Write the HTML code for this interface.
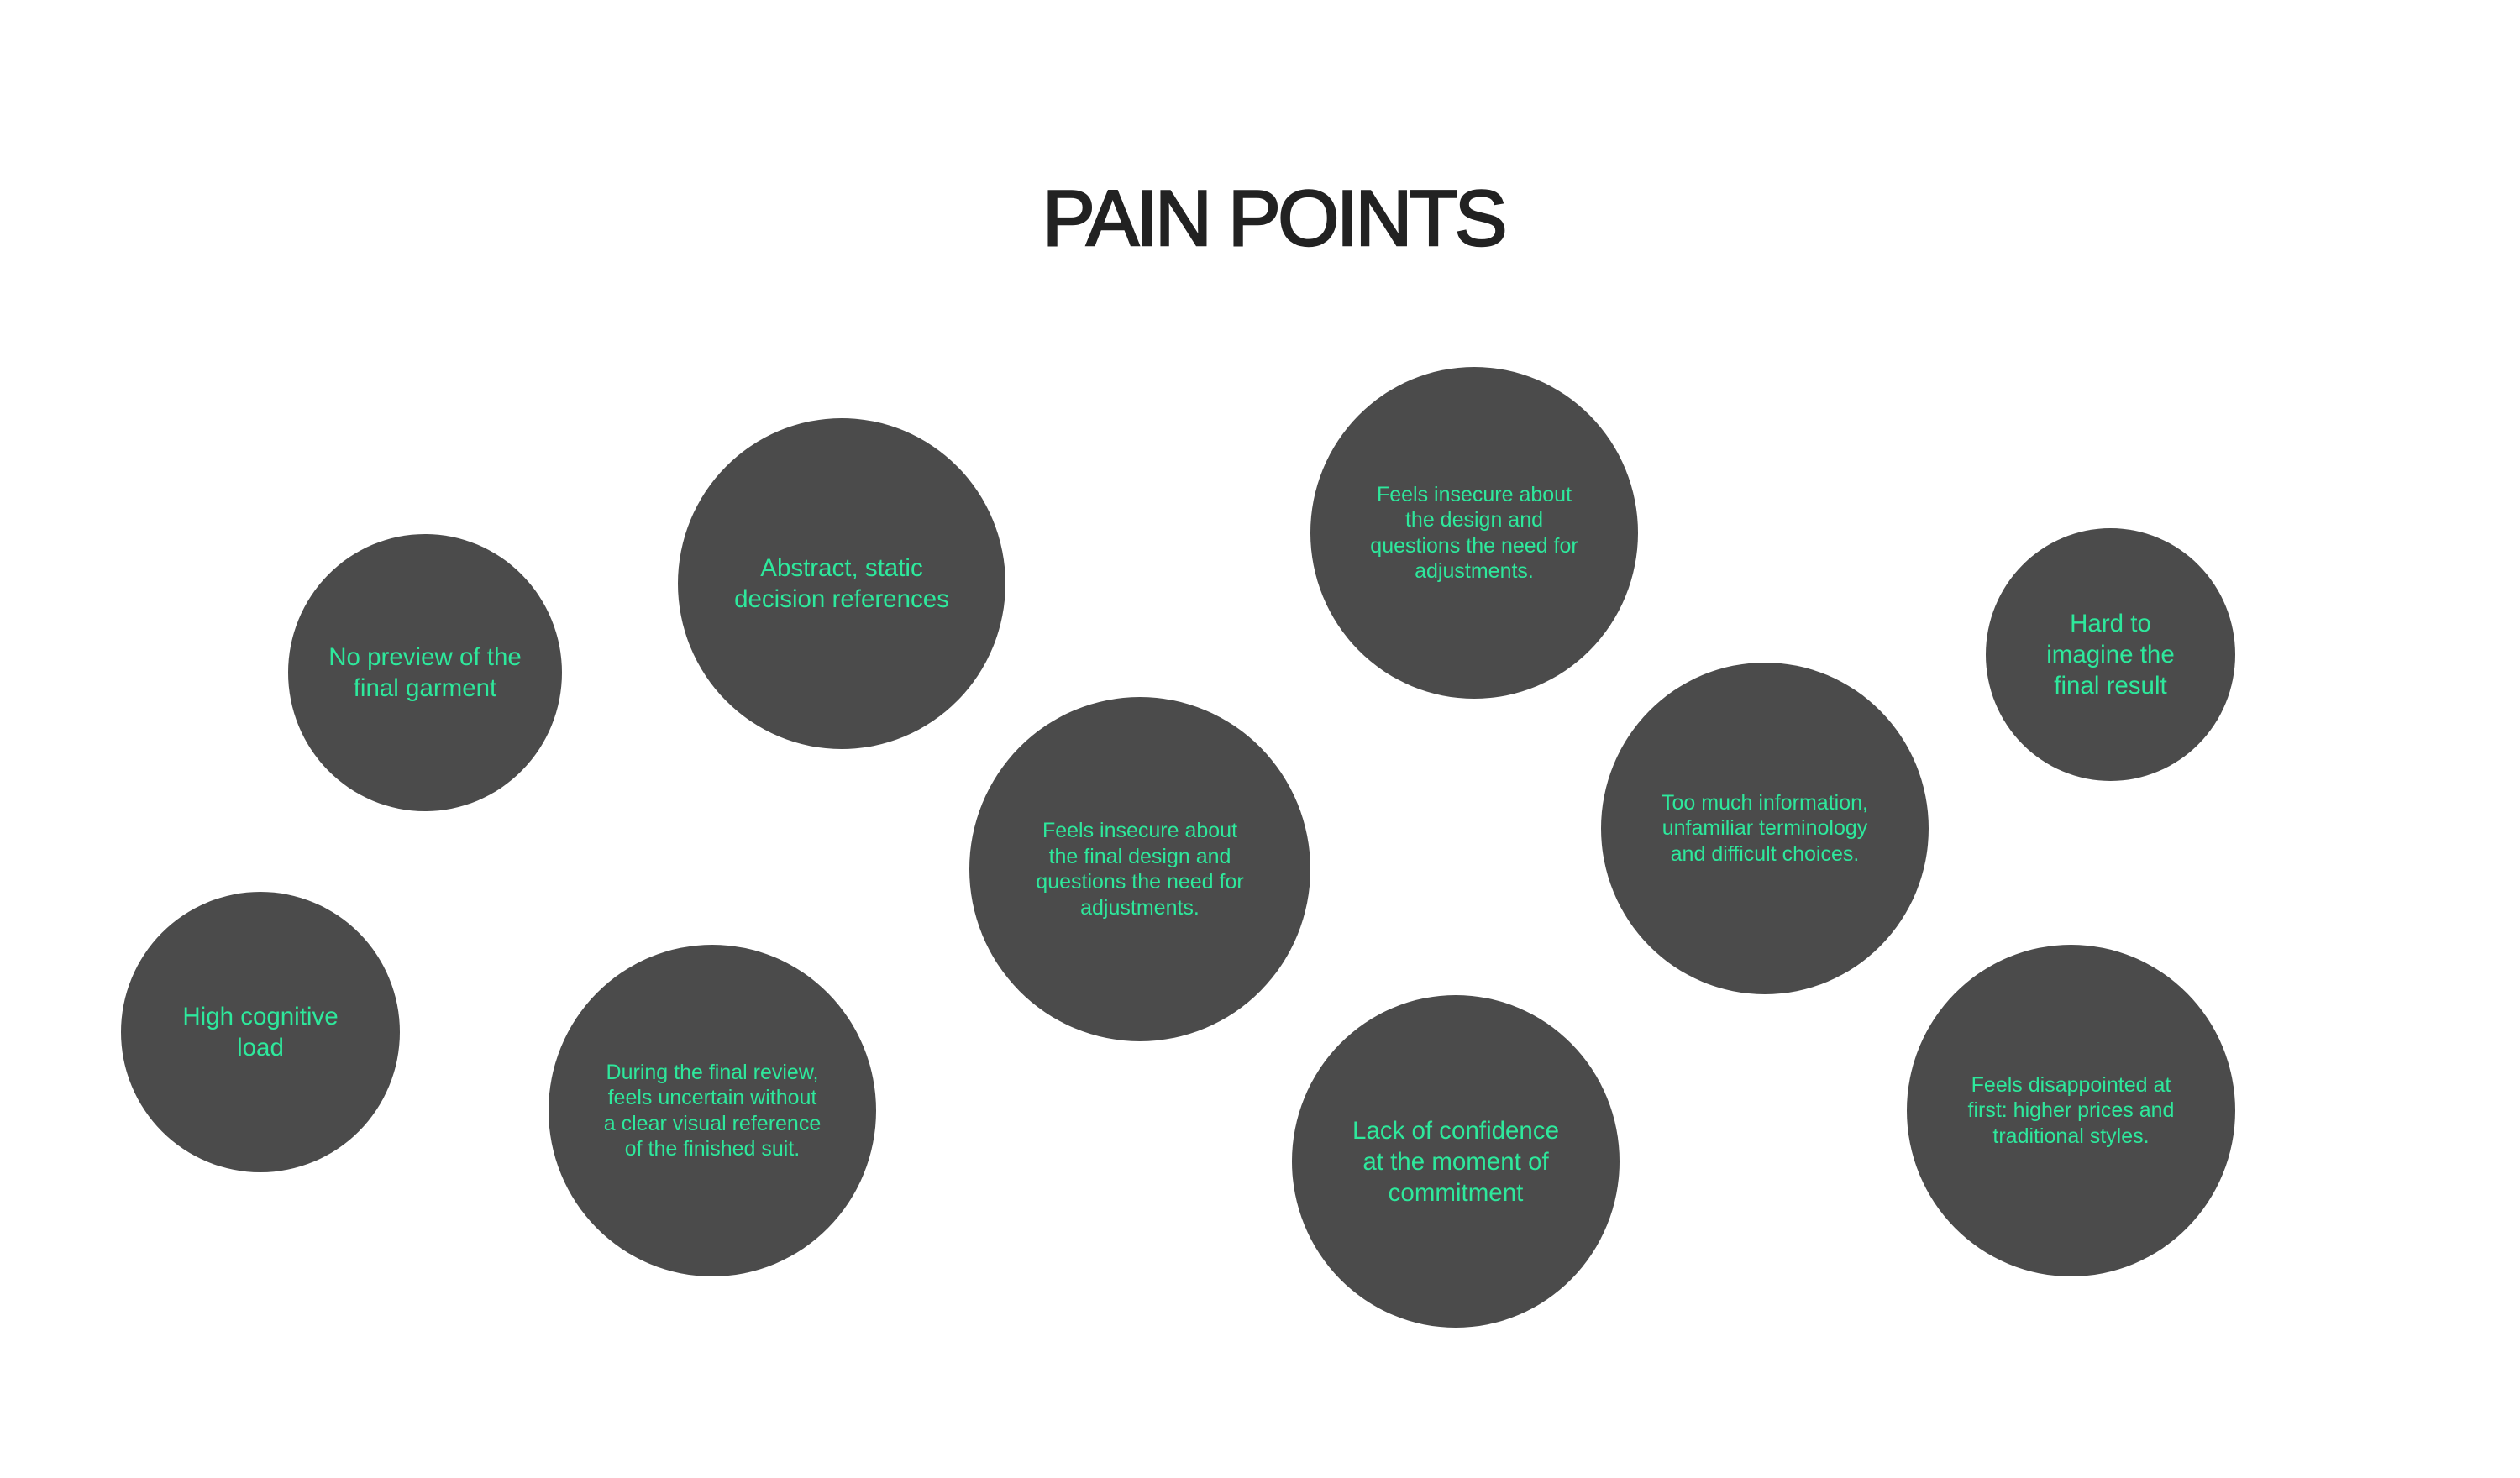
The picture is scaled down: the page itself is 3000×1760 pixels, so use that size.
<!DOCTYPE html>
<html><head><meta charset="utf-8"><style>
html,body{margin:0;padding:0;background:#fff;}
body{width:3000px;height:1760px;position:relative;overflow:hidden;font-family:"Liberation Sans",sans-serif;}
.t{position:absolute;left:16px;width:3000px;top:205px;text-align:center;font-size:94px;color:#222;letter-spacing:-3.5px;-webkit-text-stroke:2.5px #222;line-height:110px;}
.c{position:absolute;border-radius:50%;background:#4b4b4b;display:flex;align-items:center;justify-content:center;text-align:center;color:#2ee89c;white-space:nowrap;}
.L{font-size:29.5px;line-height:37px;}
.S{font-size:25px;line-height:30.5px;}
</style></head><body>
<div class="t">PAIN POINTS</div>
<div class="c L" style="left:343px;top:636px;width:326px;height:330px">No preview of the<br>final garment</div>
<div class="c L" style="left:807px;top:498px;width:390px;height:394px">Abstract, static<br>decision references</div>
<div class="c S" style="left:1154px;top:830px;width:406px;height:410px">Feels insecure about<br>the final design and<br>questions the need for<br>adjustments.</div>
<div class="c L" style="left:144px;top:1062px;width:332px;height:334px">High cognitive<br>load</div>
<div class="c S" style="left:653px;top:1125px;width:390px;height:395px">During the final review,<br>feels uncertain without<br>a clear visual reference<br>of the finished suit.</div>
<div class="c S" style="left:1560px;top:437px;width:390px;height:395px">Feels insecure about<br>the design and<br>questions the need for<br>adjustments.</div>
<div class="c L" style="left:2364px;top:629px;width:297px;height:301px">Hard to<br>imagine the<br>final result</div>
<div class="c S" style="left:1906px;top:789px;width:390px;height:395px">Too much information,<br>unfamiliar terminology<br>and difficult choices.</div>
<div class="c L" style="left:1538px;top:1185px;width:390px;height:396px">Lack of confidence<br>at the moment of<br>commitment</div>
<div class="c S" style="left:2270px;top:1125px;width:391px;height:395px">Feels disappointed at<br>first: higher prices and<br>traditional styles.</div>
</body></html>
